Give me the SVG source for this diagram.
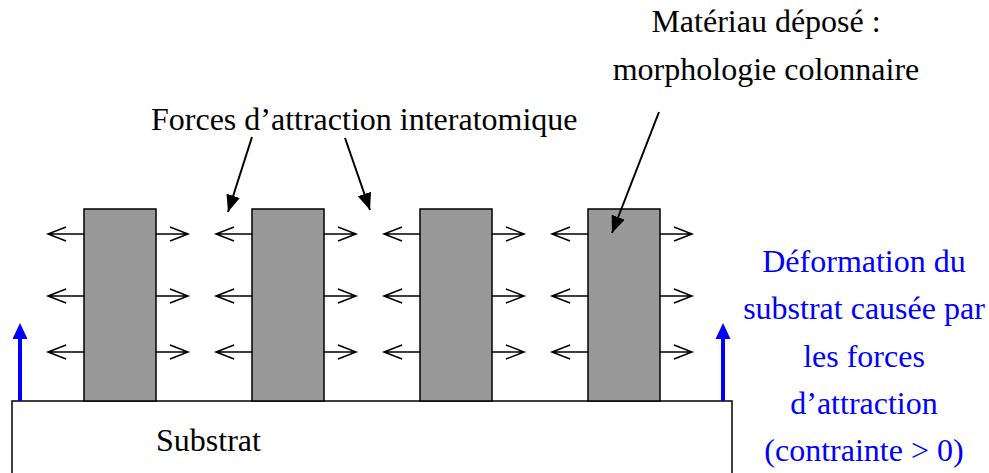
<svg xmlns="http://www.w3.org/2000/svg" width="989" height="473" viewBox="0 0 989 473">
  <style>
    .col { fill: #999999; stroke: #000; stroke-width: 1.5; }
    .sub { fill: #fff; stroke: #000; stroke-width: 1.5; }
    .f { fill: none; stroke: #000; stroke-width: 1.5; }
    .ptr { fill: none; stroke: #000; stroke-width: 2; marker-end: url(#tri); }
    .blue { stroke: #0000ff; stroke-width: 4; fill: none; }
    .bh { fill: #0000ff; }
    text { font-family: "Liberation Serif", "Times New Roman", serif; font-size: 32px; fill: #000; }
    .bt { fill: #0000ff; text-anchor: middle; }
    .ct { text-anchor: middle; }
  </style>
  <defs>
    <marker id="tri" markerUnits="userSpaceOnUse" markerWidth="18" markerHeight="14" refX="17" refY="7" orient="auto">
      <path d="M0,0 L17,7 L0,14 z" fill="#000"/>
    </marker>
    <g id="forces">
      <path class="f" d="M0,0 H-36 M-18,-7 L-36,0 L-18,7"/>
      <path class="f" d="M72,0 H104 M86,-7 L104,0 L86,7"/>
    </g>
  </defs>

  <g id="substrat">
    <rect class="sub" x="12" y="401" width="720" height="90"/>
    <text x="156" y="451">Substrat</text>
  </g>

  <g id="colonne1">
    <rect class="col" x="84" y="209" width="72" height="192"/>
  </g>
  <g id="colonne2">
    <rect class="col" x="252" y="209" width="72" height="192"/>
  </g>
  <g id="colonne3">
    <rect class="col" x="420" y="209" width="72" height="192"/>
  </g>
  <g id="colonne4">
    <rect class="col" x="588" y="209" width="72" height="192"/>
  </g>

  <g id="forces-attraction">
    <use href="#forces" x="84" y="234"/>
    <use href="#forces" x="84" y="296"/>
    <use href="#forces" x="84" y="352"/>
    <use href="#forces" x="252" y="234"/>
    <use href="#forces" x="252" y="296"/>
    <use href="#forces" x="252" y="352"/>
    <use href="#forces" x="420" y="234"/>
    <use href="#forces" x="420" y="296"/>
    <use href="#forces" x="420" y="352"/>
    <use href="#forces" x="588" y="234"/>
    <use href="#forces" x="588" y="296"/>
    <use href="#forces" x="588" y="352"/>
  </g>

  <g id="connecteurs">
    <line class="ptr" x1="252" y1="137" x2="228" y2="212"/>
    <line class="ptr" x1="345" y1="138" x2="370" y2="210"/>
    <line class="ptr" x1="659" y1="112" x2="612" y2="233"/>
    <line class="blue" x1="20" y1="401" x2="20" y2="336"/>
    <polygon class="bh" points="20,323 12.5,339 27.5,339"/>
    <line class="blue" x1="723" y1="401" x2="723" y2="336"/>
    <polygon class="bh" points="723,323 715.5,339 730.5,339"/>
  </g>

  <g id="label-forces">
    <text x="151" y="130">Forces d’attraction interatomique</text>
  </g>
  <g id="label-materiau">
    <text class="ct" x="766" y="32">Matériau déposé :</text>
    <text class="ct" x="766" y="80">morphologie colonnaire</text>
  </g>
  <g id="label-deformation">
    <text class="bt" x="864" y="272">Déformation du</text>
    <text class="bt" x="864" y="319">substrat causée par</text>
    <text class="bt" x="864" y="367">les forces</text>
    <text class="bt" x="864" y="414">d’attraction</text>
    <text class="bt" x="864" y="461">(contrainte &gt; 0)</text>
  </g>
</svg>
